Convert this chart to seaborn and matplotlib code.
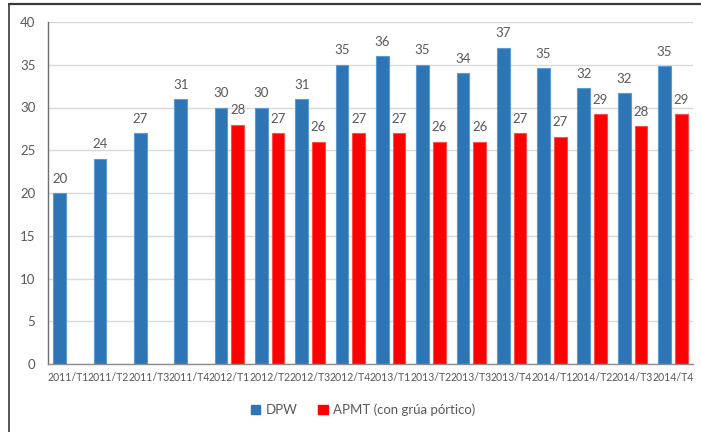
import numpy as np
import pandas as pd
import matplotlib
matplotlib.use("Agg")
import matplotlib.pyplot as plt
from matplotlib.lines import Line2D
from matplotlib.patches import Patch
import seaborn as sns

periods = ["2011/T1", "2011/T2", "2011/T3", "2011/T4",
           "2012/T1", "2012/T2", "2012/T3", "2012/T4",
           "2013/T1", "2013/T2", "2013/T3", "2013/T4",
           "2014/T1", "2014/T2", "2014/T3", "2014/T4"]
dpw = [20, 24, 27, 31, 30, 30, 31, 35, 36, 35, 34, 37, 34.6, 32.3, 31.7, 34.8]
apmt = [np.nan, np.nan, np.nan, np.nan, 28, 27, 26, 27, 27, 26, 26, 27, 26.6, 29.2, 27.8, 29.2]
series_names = ["DPW", "APMT (con grúa pórtico)"]
colors = ["#2E75B6", "#FF0000"]
edge_colors = ["#5B9BD5", "#FF4D4D"]
yticks = [0, 5, 10, 15, 20, 25, 30, 35, 40]

df = pd.DataFrame({
    "period": periods * 2,
    "series": [series_names[0]] * len(periods) + [series_names[1]] * len(periods),
    "value": dpw + apmt,
})

sns.set_theme(style="white")
plt.rcParams["font.family"] = ["Lato", "DejaVu Sans"]
grey_text = "#595959"

fig = plt.figure(figsize=(7.01, 4.32), dpi=100)
ax = fig.add_axes([48 / 701, 68 / 432, 645 / 701, 342 / 432])

sns.barplot(data=df, x="period", y="value", hue="series", order=periods,
            hue_order=series_names, palette=colors, width=0.83, gap=0.24,
            errorbar=None, ax=ax, legend=False, saturation=1)

for cont, ec in zip(ax.containers, edge_colors):
    for p in cont:
        p.set_edgecolor(ec)
        p.set_linewidth(0.8)
    ax.bar_label(cont, fmt="%.0f", padding=6, fontsize=9.5, color=grey_text)

ax.set_ylim(0, 40)
ax.set_yticks(yticks)
ax.set_xlim(-0.5, len(periods) - 0.5)
ax.yaxis.grid(True, color="#D9D9D9", linewidth=1)
ax.set_axisbelow(True)
ax.set_xlabel("")
ax.set_ylabel("")
for s in ["top", "right"]:
    ax.spines[s].set_visible(False)
ax.spines["left"].set_color("#6f6f6f")
ax.spines["bottom"].set_color("#8c8c8c")
ax.spines["left"].set_linewidth(1)
ax.spines["bottom"].set_linewidth(1)
ax.tick_params(axis="y", length=0, pad=9, labelsize=9.5, labelcolor=grey_text)
ax.tick_params(axis="x", length=0, pad=6, labelsize=7.6, labelcolor=grey_text)

handles = [Patch(facecolor=c, edgecolor=c) for c in colors]
fig.legend(handles, series_names, loc="center", bbox_to_anchor=(363 / 701, 1 - 410 / 432),
           ncol=2, frameon=False, fontsize=9.5, labelcolor=grey_text,
           handlelength=0.7, handleheight=0.7, handletextpad=0.4, columnspacing=1.6)

# outer frame lines
fig.add_artist(Line2D([8.5 / 701, 1], [1 - 4 / 432, 1 - 4 / 432], color="#3a3a3a",
                      linewidth=1.6, transform=fig.transFigure))
fig.add_artist(Line2D([8.5 / 701, 8.5 / 701], [0, 1 - 4 / 432], color="#3a3a3a",
                      linewidth=1.2, transform=fig.transFigure))

fig.savefig("out.png", dpi=100)
